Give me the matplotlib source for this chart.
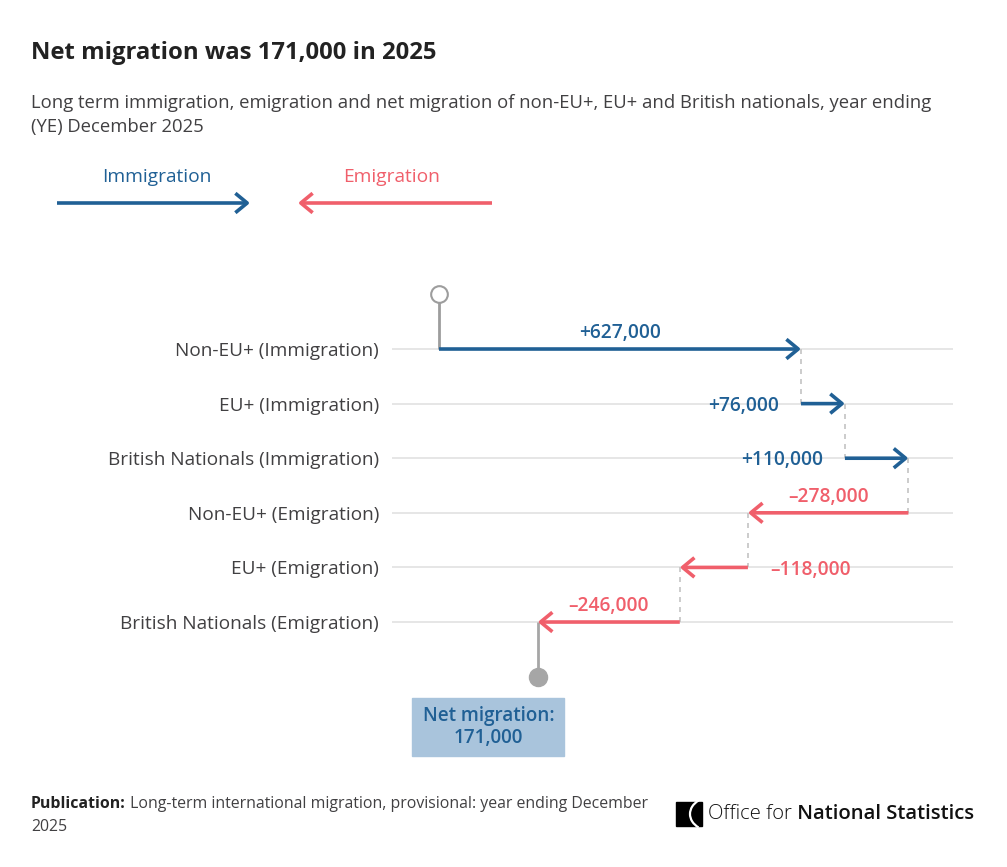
import matplotlib.pyplot as plt
from matplotlib.patches import FancyArrowPatch, ArrowStyle, Rectangle, Arc
from matplotlib import font_manager

categories = ['Non-EU+ (Immigration)', 'EU+ (Immigration)', 'British Nationals (Immigration)',
              'Non-EU+ (Emigration)', 'EU+ (Emigration)', 'British Nationals (Emigration)']
values = [627, 76, 110, -278, -118, -246]   # thousands
value_labels = ['+627,000', '+76,000', '+110,000', '\u2013278,000', '\u2013118,000', '\u2013246,000']
net_value = 171
net_label = 'Net migration:\n171,000'

BLUE = '#206095'
PINK = '#f05f6b'
GREY_TXT = '#414042'
GRID = '#e2e2e2'

names = {f.name for f in font_manager.fontManager.ttflist}
FONT = 'Open Sans' if 'Open Sans' in names else 'DejaVu Sans'
NARROW = 'Liberation Sans Narrow' if 'Liberation Sans Narrow' in names else FONT
plt.rcParams['font.family'] = [FONT, 'DejaVu Sans']

W, H = 1007, 867
fig = plt.figure(figsize=(W / 100, H / 100), dpi=100)

# overlay axes in pixel coordinates for titles, legend and footer
ov = fig.add_axes([0, 0, 1, 1])
ov.set_xlim(0, W)
ov.set_ylim(H, 0)
ov.axis('off')

ov.text(31, 53, 'Net migration was 171,000 in 2025', fontsize=17.2, fontweight='bold',
        color='#222222', va='center', ha='left')
ov.text(31, 115, 'Long term immigration, emigration and net migration of non-EU+, EU+ and British nationals, year ending\n(YE) December 2025',
        fontsize=13.3, color=GREY_TXT, va='center', ha='left', linespacing=1.4)

# legend
ov.text(157, 177, 'Immigration', fontsize=13.8, color=BLUE, ha='center', va='center')
ov.text(392, 177, 'Emigration', fontsize=13.8, color=PINK, ha='center', va='center')
style = ArrowStyle('->', head_length=8.5, head_width=7.0)
for (x0, x1), c in [((57, 250), BLUE), ((492, 298), PINK)]:
    ov.add_patch(FancyArrowPatch((x0, 203), (x1, 203), arrowstyle=style, mutation_scale=1,
                                 color=c, lw=2.6, shrinkA=0, shrinkB=0,
                                 capstyle='butt', joinstyle='round'))

# footer
t1 = ov.text(31, 804, 'Publication:', fontsize=11.45, fontweight='bold', color='#222222',
             family=NARROW, va='center', ha='left')
ov.annotate(' Long-term international migration, provisional: year ending December',
            xy=(1, 0.5), xycoords=t1, va='center', ha='left', fontsize=11.45,
            color=GREY_TXT, family=NARROW)
ov.text(31, 827, '2025', fontsize=11.45, color=GREY_TXT, family=NARROW, va='center', ha='left')

# ONS logo
ov.add_patch(Rectangle((676, 802), 26, 24, color='black'))
ov.add_patch(Arc((712, 814), 44, 34, theta1=135, theta2=225, color='white', lw=1.6))
lg = ov.text(708, 814, 'Office for', fontsize=14.6, color='#111111', family=NARROW,
             va='center', ha='left', fontweight='light')
ov.annotate(' National Statistics', xy=(1, 0.5), xycoords=lg, va='center', ha='left',
            fontsize=14.6, color='#111111', family=NARROW, fontweight='semibold')

# main chart axes
ax = fig.add_axes([392 / W, (H - 760) / H, 561 / W, 480 / H])
ax.set_xlim(-81.4, 890.2)
ax.set_ylim(7.527, -1.264)
ax.patch.set_alpha(0)
for s in ax.spines.values():
    s.set_visible(False)
ax.set_xticks([])
rows = list(range(len(categories)))
ax.set_yticks(rows)
ax.set_yticklabels(categories, fontsize=13.7, color=GREY_TXT)
ax.tick_params(axis='y', length=0, pad=9.4)
ax.grid(axis='y', color=GRID, lw=1.2)
ax.set_axisbelow(True)

# start marker
ax.plot([0, 0], [-1, 0], color='#9d9d9d', lw=2, zorder=2, solid_capstyle='butt')
ax.plot([0], [-1], marker='o', ms=12, mfc='white', mec='#9d9d9d', mew=1.5, zorder=3,
        clip_on=False)

start = 0
for i, v in enumerate(values):
    end = start + v
    c = BLUE if v > 0 else PINK
    ax.add_patch(FancyArrowPatch((start, i), (end, i), arrowstyle=style, mutation_scale=1,
                                 color=c, lw=2.6, shrinkA=0, shrinkB=0, zorder=4,
                                 capstyle='butt', joinstyle='round', clip_on=False))
    if i < len(values) - 1:
        ax.plot([end, end], [i, i + 1], color='#c4c4c4', lw=1.2, ls=(0, (3, 3)), zorder=1)
    if abs(v) > 200:
        ax.annotate(value_labels[i], xy=((start + end) / 2, i), xytext=(0, 11.5),
                    textcoords='offset points', ha='center', va='center',
                    fontsize=13.8, fontweight='semibold', color=c)
    else:
        dx = -16 if v > 0 else 16
        ax.annotate(value_labels[i], xy=(start, i), xytext=(dx, -1.5),
                    textcoords='offset points', ha='right' if v > 0 else 'left',
                    va='center', fontsize=13.8, fontweight='semibold', color=c)
    start = end

# net marker
last = len(values) - 1
ax.plot([net_value, net_value], [last, last + 1], color='#a6a6a6', lw=2, zorder=2,
        solid_capstyle='butt')
ax.plot([net_value], [last + 1], marker='o', ms=13, color='#a6a6a6', zorder=3, clip_on=False)
bw = 152 / 0.5774
bh = 58 / 54.6
ax.add_patch(Rectangle((net_value / 2 - bw / 2, 6.39), bw, bh, color='#a9c4dc',
                       clip_on=False, zorder=2))
ax.text(net_value / 2, 6.39 + bh / 2, net_label, ha='center', va='center', fontsize=13.6,
        fontweight='semibold', color=BLUE, linespacing=1.15, zorder=3)

fig.savefig('out.png', dpi=100)
